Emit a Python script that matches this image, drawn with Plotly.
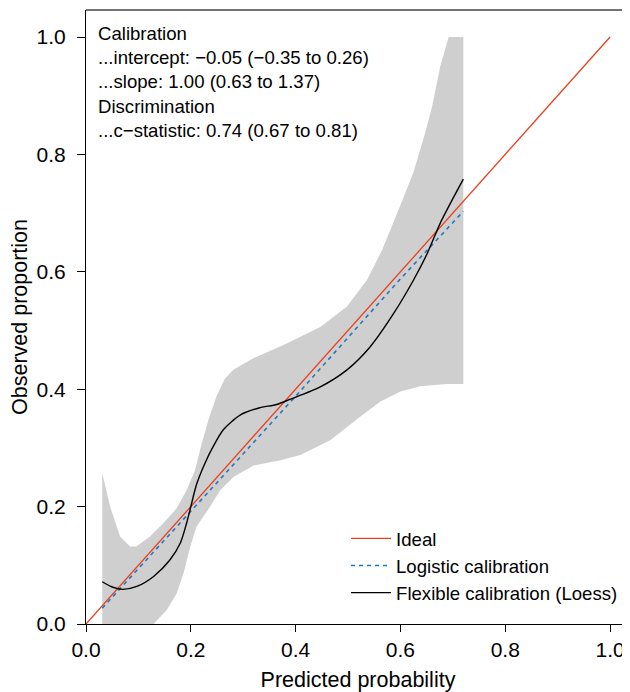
import plotly.graph_objects as go

# Ideal line
ideal_x = [0.0, 1.0]
ideal_y = [0.0, 1.0]

# Logistic calibration (dashed)
logit_x = [0.031, 0.1, 0.2, 0.3, 0.4, 0.5, 0.6, 0.72]
logit_y = [0.027, 0.095, 0.192, 0.29, 0.388, 0.488, 0.588, 0.703]

# Flexible calibration (Loess)
loess_x = [0.031, 0.05, 0.07, 0.097, 0.129, 0.16, 0.18, 0.192, 0.2, 0.211, 0.227,
           0.243, 0.262, 0.294, 0.33, 0.364, 0.39, 0.447, 0.498, 0.542, 0.587,
           0.625, 0.651, 0.676, 0.702, 0.72]
loess_y = [0.072, 0.063, 0.059, 0.064, 0.081, 0.109, 0.138, 0.172, 0.2, 0.238, 0.274,
           0.303, 0.331, 0.356, 0.368, 0.374, 0.383, 0.404, 0.433, 0.472, 0.529,
           0.586, 0.631, 0.683, 0.728, 0.758]

# Confidence band
upper_x = [0.031, 0.046, 0.065, 0.084, 0.096, 0.122, 0.148, 0.173, 0.192, 0.208,
           0.22, 0.235, 0.25, 0.265, 0.281, 0.32, 0.383, 0.447, 0.498, 0.536,
           0.565, 0.581, 0.603, 0.625, 0.645, 0.66, 0.676, 0.692, 0.72]
upper_y = [0.257, 0.2, 0.149, 0.132, 0.132, 0.149, 0.172, 0.197, 0.228, 0.262,
           0.305, 0.352, 0.39, 0.418, 0.433, 0.453, 0.478, 0.506, 0.541, 0.586,
           0.637, 0.671, 0.72, 0.77, 0.83, 0.88, 0.95, 1.0, 1.0]
lower_x = [0.031, 0.08, 0.129, 0.154, 0.173, 0.186, 0.199, 0.211, 0.237, 0.256,
           0.282, 0.32, 0.371, 0.409, 0.466, 0.523, 0.562, 0.6, 0.638, 0.689, 0.72]
lower_y = [0.0, 0.0, 0.0, 0.024, 0.052, 0.086, 0.132, 0.166, 0.2, 0.228,
           0.251, 0.27, 0.279, 0.288, 0.313, 0.353, 0.379, 0.396, 0.405, 0.409, 0.409]

stats_lines = [
    "Calibration",
    "...intercept: \u22120.05 (\u22120.35 to 0.26)",
    "...slope: 1.00 (0.63 to 1.37)",
    "Discrimination",
    "...c\u2212statistic: 0.74 (0.67 to 0.81)",
]

tick_vals = [0.0, 0.2, 0.4, 0.6, 0.8, 1.0]
tick_text = ["0.0", "0.2", "0.4", "0.6", "0.8", "1.0"]

FONT = "Liberation Sans, Arial, Helvetica, sans-serif"

fig = go.Figure()

fig.add_trace(go.Scatter(
    x=upper_x + lower_x[::-1], y=upper_y + lower_y[::-1],
    fill="toself", fillcolor="#CFCFCF", line=dict(width=0),
    mode="lines", showlegend=False, hoverinfo="skip"))

fig.add_trace(go.Scatter(x=ideal_x, y=ideal_y, mode="lines", name="Ideal",
                         line=dict(color="#E8401C", width=1.3)))
fig.add_trace(go.Scatter(x=logit_x, y=logit_y, mode="lines", name="Logistic calibration",
                         line=dict(color="#1F78C8", width=1.6, dash="4px,4px")))
fig.add_trace(go.Scatter(x=loess_x, y=loess_y, mode="lines", name="Flexible calibration (Loess)",
                         line=dict(color="black", width=1.4, shape="spline", smoothing=0.7)))

fig.add_annotation(
    x=0.018, y=0.982, xref="paper", yref="paper", xanchor="left", yanchor="top",
    text="<br>".join(stats_lines), showarrow=False, align="left",
    font=dict(family=FONT, size=18.6, color="black"))

fig.add_shape(type="line", xref="paper", yref="paper", x0=0, x1=1, y0=1, y1=1,
              line=dict(color="#444444", width=1.5))

# page body has an 8px margin: figure is sized/offset so the plot lands where the reference has it
fig.update_layout(
    width=622, height=684,
    margin=dict(l=78, r=0, t=2, b=68),
    paper_bgcolor="white", plot_bgcolor="white",
    font=dict(family=FONT, size=21, color="black"),
    showlegend=True,
    legend=dict(x=0.478, y=0.02, xanchor="left", yanchor="bottom",
                bgcolor="rgba(0,0,0,0)", font=dict(size=18.6, family=FONT),
                tracegroupgap=0, itemwidth=40),
    xaxis=dict(range=[0, 1.038], tickvals=tick_vals, ticktext=tick_text,
               automargin=False,
               showline=True, linecolor="black", linewidth=1.2,
               ticks="outside", ticklen=7, tickcolor="black", tickwidth=1.2,
               showgrid=False, zeroline=False,
               title=dict(text="Predicted probability", standoff=14,
                          font=dict(size=21.5, family=FONT)),
               tickfont=dict(size=21, family=FONT)),
    yaxis=dict(range=[0, 1.046], tickvals=tick_vals, ticktext=tick_text,
               automargin=False, ticklabelstandoff=7,
               showline=True, linecolor="black", linewidth=1.2,
               ticks="outside", ticklen=8, tickcolor="black", tickwidth=1.2,
               showgrid=False, zeroline=False,
               title=dict(text="Observed proportion", standoff=14,
                          font=dict(size=21.5, family=FONT)),
               tickfont=dict(size=21, family=FONT)),
)

fig.write_html("out.html")
